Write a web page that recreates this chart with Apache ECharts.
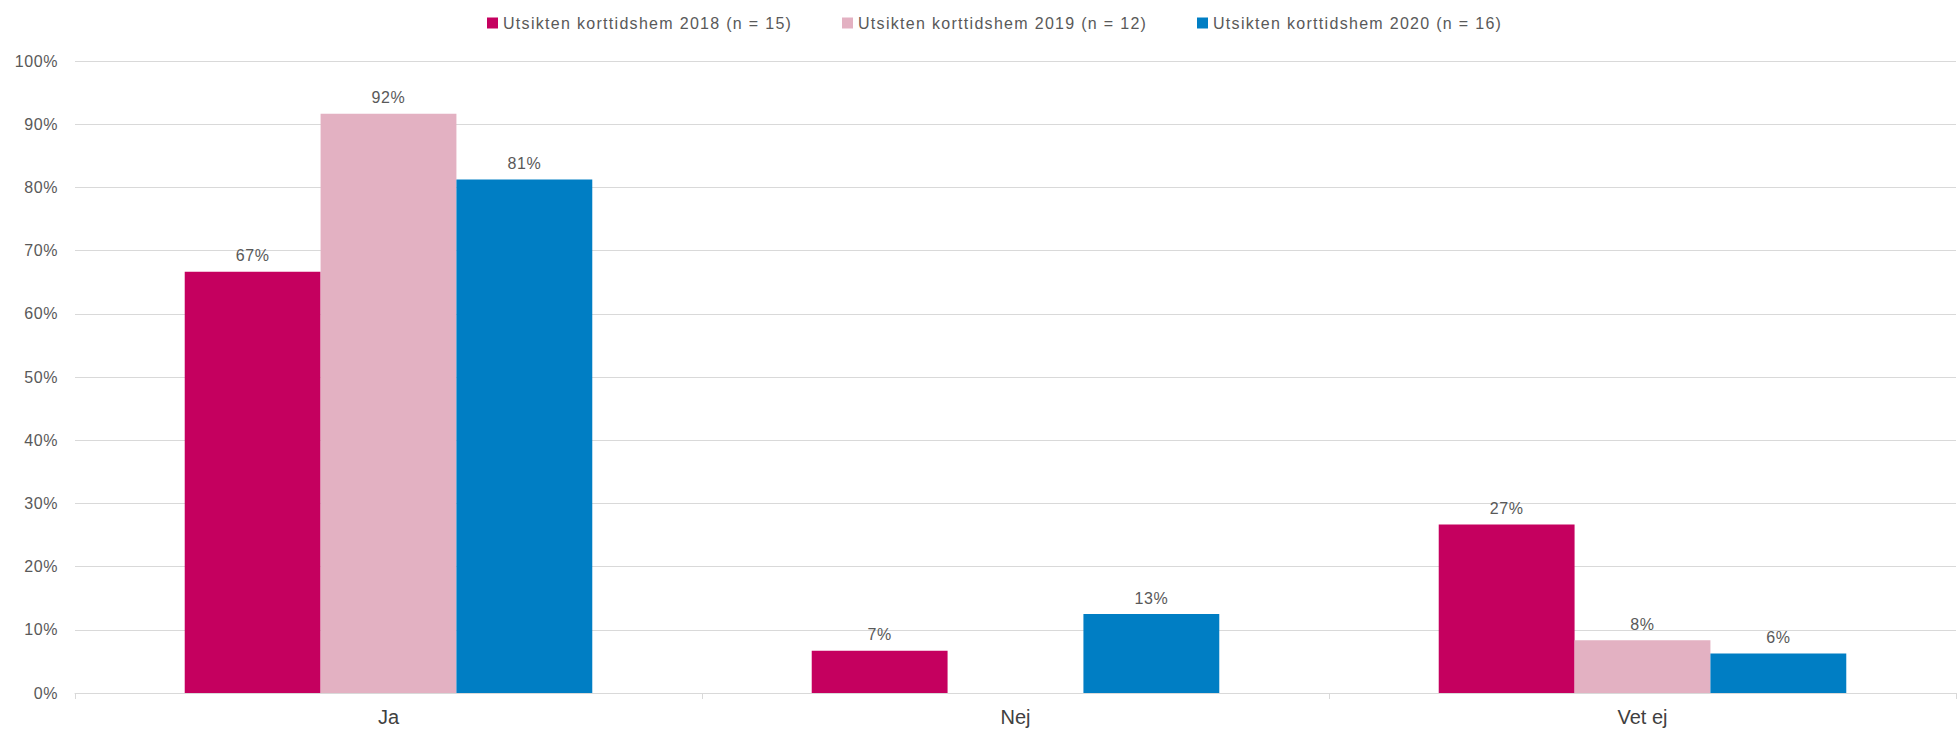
<!DOCTYPE html>
<html><head><meta charset="utf-8">
<script src="https://cdn.jsdelivr.net/npm/echarts@6/dist/echarts.min.js"></script>
<style>html,body{margin:0;padding:0;background:#fff}#c{width:1960px;height:731px}</style>
</head><body><div id="c"></div>
<script>
const categories = ['Ja', 'Nej', 'Vet ej'];
const seriesNames = ['Utsikten korttidshem 2018 (n = 15)', 'Utsikten korttidshem 2019 (n = 12)', 'Utsikten korttidshem 2020 (n = 16)'];
const values2018 = [66.67, 6.67, 26.67];
const values2019 = [91.67, null, 8.33];
const values2020 = [81.25, 12.5, 6.25];
const colors = ['#C5005F', '#E3B1C2', '#007EC4'];
const yTicks = [0, 10, 20, 30, 40, 50, 60, 70, 80, 90, 100];

const font = 'Liberation Sans, Arial, sans-serif';
const chart = echarts.init(document.getElementById('c'), null, {renderer: 'svg'});
const data = [values2018, values2019, values2020];
chart.setOption({
  animation: false,
  legend: {
    top: 10, left: 482, itemWidth: 11, itemHeight: 11, itemGap: 94,
    icon: 'rect',
    textStyle: {fontFamily: font, fontSize: 16, color: '#595959'},
    data: seriesNames
  },
  grid: {left: 75, right: 4, top: 61, bottom: 38, containLabel: false},
  xAxis: {
    type: 'category', data: categories,
    axisLine: {lineStyle: {color: '#d9d9d9', width: 1}},
    axisTick: {show: true, alignWithLabel: false, length: 6, lineStyle: {color: '#d9d9d9'}},
    axisLabel: {fontFamily: font, fontSize: 20, color: '#404040', margin: 14}
  },
  yAxis: {
    type: 'value', min: 0, max: 100, interval: 10,
    axisLine: {show: false}, axisTick: {show: false},
    splitLine: {lineStyle: {color: '#d9d9d9', width: 1}},
    axisLabel: {fontFamily: font, fontSize: 16, color: '#595959', margin: 17,
      formatter: v => yTicks.includes(v) ? v + '%' : ''}
  },
  series: seriesNames.map((n, i) => ({
    name: n, type: 'bar', data: data[i],
    barGap: '0%', barCategoryGap: '35%',
    itemStyle: {color: colors[i]},
    label: {show: true, position: 'top', distance: 8, fontFamily: font, fontSize: 16, color: '#595959',
      formatter: p => p.value == null ? '' : Math.round(p.value) + '%'}
  }))
});
function spacing() {
  document.querySelectorAll('#c text').forEach(t => {
    const s = t.textContent || '';
    if (s.indexOf('Utsikten') === 0) t.style.letterSpacing = '1.3px';
    else if (s.indexOf('%') >= 0) t.style.letterSpacing = '0.6px';
  });
}
spacing();
chart.on('finished', spacing);
setTimeout(spacing, 50);
</script></body></html>
